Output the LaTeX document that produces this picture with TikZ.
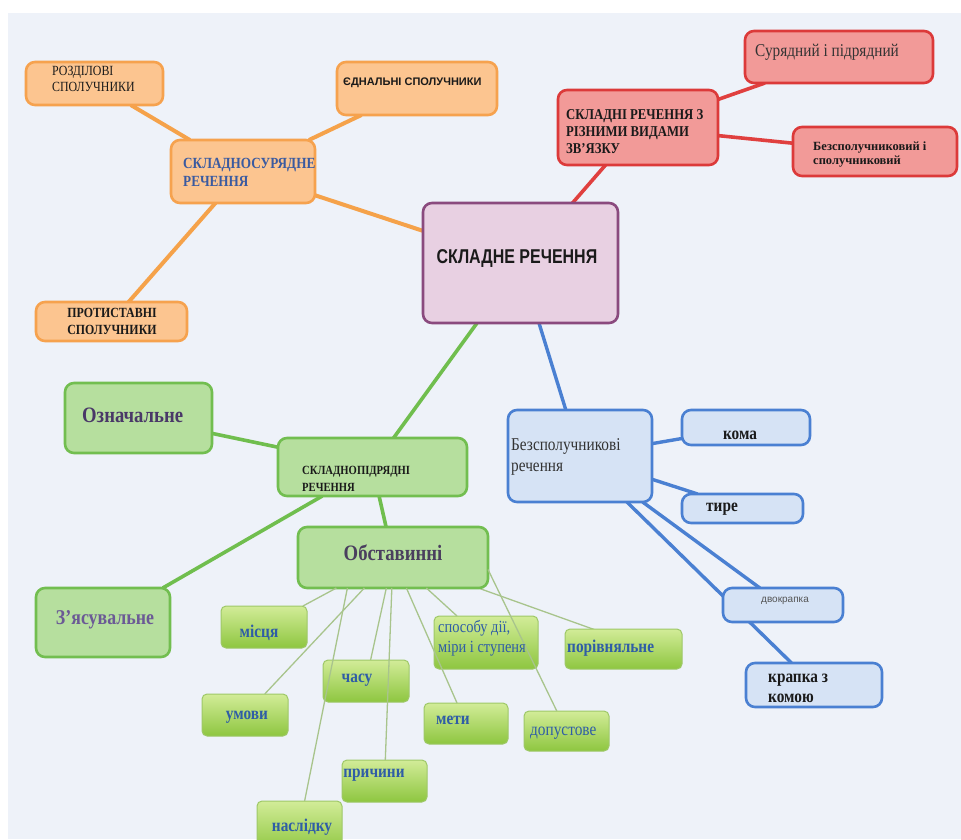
\documentclass[tikz,border=0pt]{standalone}
\usepackage{fontspec}
\setmainfont{Liberation Serif}
\newfontfamily\serN[FakeStretch=0.85]{Liberation Serif}
\newfontfamily\sansN[FakeStretch=0.8]{Liberation Sans}
\newfontfamily\sansR{Liberation Sans}
\usetikzlibrary{calc}

\definecolor{bgc}{HTML}{EEF2F9}
\definecolor{ofill}{HTML}{FCC590}
\definecolor{oline}{HTML}{F6A24E}
\definecolor{oedgec}{HTML}{F5A24A}
\definecolor{rfill}{HTML}{F29A98}
\definecolor{rline}{HTML}{DC3A3A}
\definecolor{redgec}{HTML}{E0403F}
\definecolor{cfill}{HTML}{E8D0E2}
\definecolor{cline}{HTML}{8A4A7E}
\definecolor{gfill}{HTML}{B6DF9E}
\definecolor{gline}{HTML}{72BE50}
\definecolor{gedgec}{HTML}{70BE4E}
\definecolor{bfill}{HTML}{D6E3F5}
\definecolor{bline}{HTML}{4A80D2}
\definecolor{bedgec}{HTML}{4A80D2}
\definecolor{stopc}{HTML}{D2EC98}
\definecolor{sbotc}{HTML}{8EC640}
\definecolor{slinec}{HTML}{9EC868}
\definecolor{thinc}{HTML}{A8C48C}
\definecolor{blackT}{HTML}{1A1A1A}
\definecolor{darkT}{HTML}{333333}
\definecolor{sklT}{HTML}{3A5AA0}
\definecolor{blueT}{HTML}{2F5DA6}
\definecolor{purpT}{HTML}{4A3868}
\definecolor{obstT}{HTML}{4A3F5E}
\definecolor{zyasT}{HTML}{6B5A95}
\definecolor{grayT}{HTML}{555555}

\pgfdeclarelayer{bg}
\pgfdeclarelayer{edges}
\pgfsetlayers{bg,edges,main}

\newcommand\fs[2]{\fontsize{#1}{#2}\selectfont}
\newcommand\drawbox[6]{\node[#2, minimum width={#5pt-#3pt}, minimum height={#6pt-#4pt}] (#1) at (#3,#4) {};}

\begin{document}
\begin{tikzpicture}[x=1pt,y=-1pt,
  bx/.style={rounded corners=9pt, line width=2.6pt, inner sep=0pt, outer sep=0pt, anchor=north west},
  obox/.style={bx, fill=ofill, draw=oline},
  rbox/.style={bx, fill=rfill, draw=rline},
  cbox/.style={bx, fill=cfill, draw=cline},
  gbox/.style={bx, fill=gfill, draw=gline},
  bbox/.style={bx, fill=bfill, draw=bline},
  sbox/.style={rounded corners=5pt, line width=1pt, inner sep=0pt, outer sep=0pt, anchor=north west, draw=slinec, top color=stopc, bottom color=sbotc},
  oedge/.style={draw=oedgec, line width=4pt},
  redge/.style={draw=redgec, line width=3.6pt},
  gedge/.style={draw=gedgec, line width=3.6pt},
  bedge/.style={draw=bedgec, line width=3.4pt},
  thinl/.style={draw=thinc, line width=1.3pt},
  tx/.style={inner sep=0pt, align=left, anchor=west},
  tc/.style={inner sep=0pt, align=center},
  smallg/.style={tc, text=blueT, font=\serN\bfseries\fs{18}{20}},
]
\useasboundingbox (0,0) rectangle (961,839);
\begin{pgfonlayer}{bg}
\fill[white] (0,0) rectangle (961,839);
\fill[bgc] (8,13) rectangle (961,839);
\end{pgfonlayer}

% boxes
\drawbox{rozd}{obox}{26}{62}{163}{105}
\drawbox{yedn}{obox}{337}{62}{497}{115}
\drawbox{skl}{obox}{171}{140}{315}{203}
\drawbox{prot}{obox}{36}{302}{187}{341}
\drawbox{cent}{cbox}{423}{203}{618}{323}
\drawbox{red}{rbox}{558}{90}{718}{165}
\drawbox{sur}{rbox}{745}{31}{933}{83}
\drawbox{bezr}{rbox}{793}{127}{957}{176}
\drawbox{ozn}{gbox}{65}{383}{212}{453}
\drawbox{sp}{gbox}{278}{438}{467}{496}
\drawbox{obst}{gbox}{298}{527}{488}{588}
\drawbox{zyas}{gbox}{36}{588}{170}{657}
\drawbox{mists}{sbox}{221}{606}{307}{648}
\drawbox{chasu}{sbox}{323}{660}{409}{702}
\drawbox{umovy}{sbox}{202}{694}{288}{736}
\drawbox{pryc}{sbox}{342}{760}{427}{802}
\drawbox{nasl}{sbox}{257}{801}{342}{852}
\drawbox{spos}{sbox}{434}{616}{538}{669}
\drawbox{por}{sbox}{565}{629}{682}{669}
\drawbox{mety}{sbox}{424}{703}{508}{744}
\drawbox{dop}{sbox}{524}{711}{609}{751}
\drawbox{bzs}{bbox}{508}{410}{652}{502}
\drawbox{koma}{bbox}{682}{410}{810}{445}
\drawbox{tyre}{bbox}{682}{494}{803}{523}
\drawbox{dvok}{bbox}{723}{588}{843}{622}
\drawbox{krap}{bbox}{746}{663}{882}{707}

% thick connectors
\begin{pgfonlayer}{edges}
\draw[oedge] (rozd) -- (skl);
\draw[oedge] (yedn) -- (skl);
\draw[oedge] (prot) -- (skl);
\draw[oedge] (skl) -- (cent);
\draw[redge] (cent) -- (red);
\draw[redge] (red) -- (sur);
\draw[redge] (red) -- (bezr);
\draw[gedge] (cent) -- (sp);
\draw[gedge] (ozn) -- (sp);
\draw[gedge] (sp) -- (zyas);
\draw[gedge] (sp) -- (obst);
\draw[bedge] (cent) -- (bzs);
\draw[bedge] (bzs) -- (koma);
\draw[bedge] (bzs) -- (tyre);
\draw[bedge] (bzs) -- (dvok);
\draw[bedge] (bzs) -- (krap);
\draw[thinl] (obst.center) -- ([yshift=9pt]por.center);
\end{pgfonlayer}

% thin connectors
\draw[thinl] (obst) -- (mists);
\draw[thinl] (obst) -- (umovy);
\draw[thinl] (obst) -- (chasu);
\draw[thinl] (obst) -- (pryc);
\draw[thinl] (obst) -- (mety);
\draw[thinl] (obst) -- (spos);
\draw[thinl] ([xshift=-45.6pt]obst.south) -- (nasl);
\draw[thinl] ([yshift=-12pt]obst.east) -- (dop);

% texts
\node[tx, text=blackT, font=\serN\fs{14}{16}] (t-rozd) at (52,79) {РОЗДІЛОВІ\\СПОЛУЧНИКИ};
\node[tx, text=blackT, font=\sansR\bfseries\fs{11}{13}] (t-yedn) at (343,83) {ЄДНАЛЬНІ СПОЛУЧНИКИ};
\node[tx, text=sklT, font=\serN\bfseries\fs{15.5}{18}] (t-skl) at (183,172) {СКЛАДНОСУРЯДНЕ\\РЕЧЕННЯ};
\node[tc, text=blackT, font=\serN\bfseries\fs{14}{17}] (t-prot) at (112,321) {ПРОТИСТАВНІ\\СПОЛУЧНИКИ};
\node[tc, text=blackT, font=\sansN\bfseries\fs{20}{22}] (t-cent) at (517,259) {СКЛАДНЕ РЕЧЕННЯ};
\node[tx, text=blackT, font=\serN\bfseries\fs{15}{17}] (t-red) at (566,132) {СКЛАДНІ РЕЧЕННЯ З\\РІЗНИМИ ВИДАМИ\\ЗВ’ЯЗКУ};
\node[tx, text=darkT, font=\serN\fs{18}{20}] (t-sur) at (755,52) {Сурядний і підрядний};
\node[tx, text=blackT, font=\bfseries\fs{12.5}{14}] (t-bezr) at (813,155) {Безсполучниковий і\\сполучниковий};
\node[tx, text=purpT, font=\serN\bfseries\fs{22}{24}] (t-ozn) at (82,415) {Означальне};
\node[tx, text=blackT, font=\serN\bfseries\fs{12.5}{17}] (t-sp) at (302,479) {СКЛАДНОПІДРЯДНІ\\РЕЧЕННЯ};
\node[tc, text=obstT, font=\serN\bfseries\fs{22}{24}] (t-obst) at (393,553) {Обставинні};
\node[tc, text=zyasT, font=\serN\bfseries\fs{21}{24}] (t-zyas) at (105,620) {З’ясувальне};
\node[smallg] (t-mists) at (259,633) {місця};
\node[smallg] (t-chasu) at (357,680) {часу};
\node[smallg] (t-umovy) at (247,717) {умови};
\node[smallg] (t-pryc) at (374,775) {причини};
\node[smallg] (t-nasl) at (302,827) {наслідку};
\node[tx, text=blueT, font=\serN\fs{17}{20}] (t-spos) at (438,638) {способу дії,\\міри і ступеня};
\node[smallg, anchor=west] (t-por) at (567,648) {порівняльне};
\node[smallg] (t-mety) at (453,720) {мети};
\node[tx, text=blueT, font=\serN\fs{18}{20}] (t-dop) at (530,733) {допустове};
\node[tx, text=darkT, font=\serN\fs{18}{21}] (t-bzs) at (511,457) {Безсполучникові\\речення};
\node[tc, text=blackT, font=\serN\bfseries\fs{18}{20}] (t-koma) at (740,435) {кома};
\node[tc, text=blackT, font=\serN\bfseries\fs{18}{20}] (t-tyre) at (722,509) {тире};
\node[tc, text=grayT, font=\sansR\fs{10}{12}] (t-dvok) at (785,601) {двокрапка};
\node[tx, text=blackT, font=\serN\bfseries\fs{18}{20}] (t-krap) at (768,688) {крапка з\\комою};
\end{tikzpicture}
\end{document}
